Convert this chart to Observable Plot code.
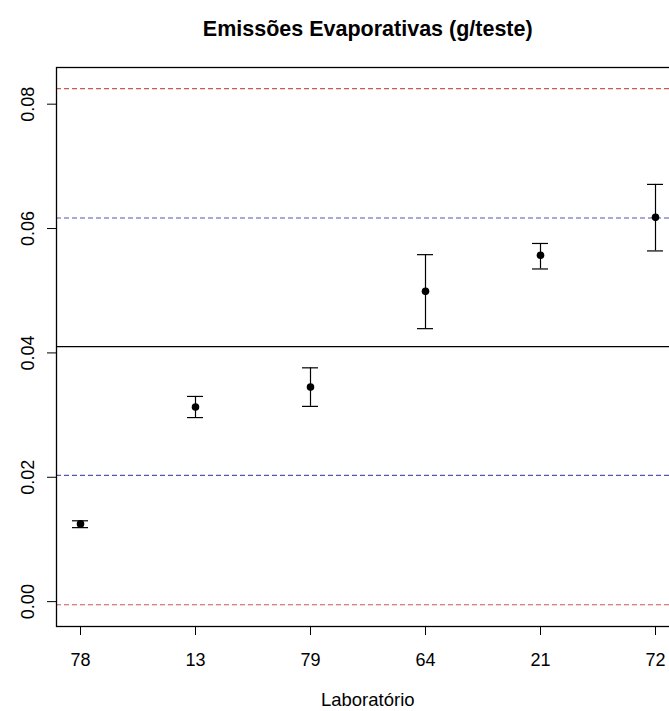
<!DOCTYPE html>
<html>
<head>
<meta charset="utf-8">
<script src="https://cdn.jsdelivr.net/npm/d3@7"></script>
<script src="https://cdn.jsdelivr.net/npm/@observablehq/plot@0.6"></script>
<style>
  html, body { margin: 0; padding: 0; background: #fff; overflow: hidden; }
  svg { overflow: hidden; display: block; }
</style>
</head>
<body>
<div id="chart"></div>
<script>
// ---- data ----
const titleText = "Emissões Evaporativas (g/teste)";
const xLabelText = "Laboratório";
const labs  = ["78", "13", "79", "64", "21", "72"];
const means = [0.0125, 0.0313, 0.0345, 0.0499, 0.0557, 0.0618];
const lower = [0.0119, 0.0296, 0.0314, 0.0439, 0.0535, 0.0564];
const upper = [0.0130, 0.0330, 0.0376, 0.0558, 0.0576, 0.0671];
const centerLine = [0.0410];
const blueLines  = [0.0617, 0.0203];
const redLines   = [0.0825, -0.0005];
const yTicks = [0.00, 0.02, 0.04, 0.06, 0.08];

const rows = labs.map((lab, i) => ({lab, mean: means[i], lo: lower[i], hi: upper[i]}));

const font = "'Liberation Sans', Arial, sans-serif";

const chart = Plot.plot({
  width: 669,
  height: 711,
  marginLeft: 56,
  marginRight: -9.5,
  marginTop: 67,
  marginBottom: 85,
  style: {fontFamily: font, background: "#fff", color: "#000"},
  x: {type: "band", domain: labs, paddingInner: 0.861, paddingOuter: 0.13},
  y: {domain: [-0.0040, 0.0859]},
  marks: [
    Plot.ruleY(redLines, {stroke: "#d05555", strokeWidth: 1.1, strokeDasharray: "5,3"}),
    Plot.ruleY(blueLines, {stroke: "#5555b0", strokeWidth: 1.1, strokeDasharray: "5,3"}),
    Plot.ruleY(centerLine, {stroke: "#000", strokeWidth: 1.2}),
    Plot.ruleX(rows, {x: "lab", y1: "lo", y2: "hi", stroke: "#000", strokeWidth: 1.2}),
    Plot.tickY(rows, {x: "lab", y: "lo", stroke: "#000", strokeWidth: 1.2}),
    Plot.tickY(rows, {x: "lab", y: "hi", stroke: "#000", strokeWidth: 1.2}),
    Plot.dot(rows, {x: "lab", y: "mean", r: 3.8, fill: "#000", stroke: "none"}),
    Plot.axisY({ticks: yTicks, tickFormat: d => d.toFixed(2), tickRotate: -90, tickSize: 9, tickPadding: 14, fontSize: 18, label: null, stroke: "#000"}),
    Plot.axisX({tickSize: 9, tickPadding: 18, fontSize: 18, label: null, stroke: "#000"}),
    Plot.frame({stroke: "#000", strokeWidth: 1.3}),
    Plot.text([titleText], {frameAnchor: "top", dy: -47, fontSize: 21.5, fontWeight: "bold", fill: "#000"}),
    Plot.text([xLabelText], {frameAnchor: "bottom", dy: 79, fontSize: 18.5, fill: "#000"})
  ]
});
document.getElementById("chart").appendChild(chart);
</script>
</body>
</html>
